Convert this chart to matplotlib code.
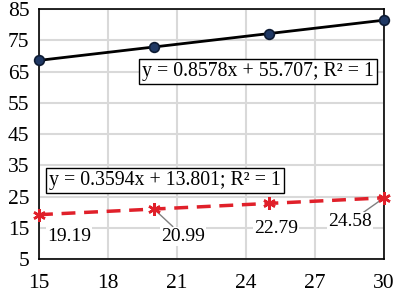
import matplotlib.pyplot as plt
import numpy as np

# data
x = [15, 20, 25, 30]
upper = [68.574, 72.863, 77.152, 81.441]
lower = [19.19, 20.99, 22.79, 24.58]
lower_labels = ['19.19', '20.99', '22.79', '24.58']
xticks = [15, 18, 21, 24, 27, 30]
yticks = [5, 15, 25, 35, 45, 55, 65, 75, 85]
eq_upper = 'y = 0.8578x + 55.707; R² = 1'
eq_lower = 'y = 0.3594x + 13.801; R² = 1'

plt.rcParams['font.family'] = ['Liberation Serif', 'DejaVu Serif']

fig = plt.figure(figsize=(3.94, 2.92), dpi=100)
ax = fig.add_axes([0.099, 0.113, 0.8756, 0.856])

ax.plot(x, upper, color='black', lw=2, marker='o', ms=7,
        mfc='#1f3864', mec='#0d1b33', mew=1.2, zorder=4, clip_on=False)
ax.plot(x, lower, color='#e0202a', lw=2.5, ls=(0, (4, 2.5)), marker=(6, 2, 0),
        ms=9, mec='#e0202a', mew=1.8, zorder=4, clip_on=False)

# data labels below the red series
offsets = [(30, -22), (29, -27), (7, -25), (-34, -24)]
leader = [False, True, False, True]
for i in range(len(x)):
    props = dict(arrowstyle='-', color='#808080', lw=1, shrinkA=0, shrinkB=3) if leader[i] else None
    ax.annotate(lower_labels[i], (x[i], lower[i]), xytext=offsets[i],
                textcoords='offset pixels', ha='center', va='center', fontsize=14,
                bbox=dict(boxstyle='square,pad=0.05', fc='white', ec='none'),
                arrowprops=props, zorder=3)

# trendline equations
ax.text(24.52, 65.0, eq_upper, ha='center', va='center', fontsize=14.3, zorder=5,
        bbox=dict(boxstyle='square,pad=0.15', fc='white', ec='black', lw=1))
ax.text(20.48, 30.1, eq_lower, ha='center', va='center', fontsize=14.3, zorder=5,
        bbox=dict(boxstyle='square,pad=0.15', fc='white', ec='black', lw=1))

ax.set_xlim(15, 30)
ax.set_ylim(5, 85)
ax.set_xticks(xticks)
ax.set_yticks(yticks)
ax.grid(True, color='#d9d9d9', lw=1.5)
ax.set_axisbelow(True)
ax.tick_params(length=0, labelsize=15.5)
ax.tick_params(axis='x', pad=10.5)
ax.tick_params(axis='y', pad=7)
for s in ax.spines.values():
    s.set_color('black')
    s.set_linewidth(1.2)

fig.savefig('out.png', dpi=100)
